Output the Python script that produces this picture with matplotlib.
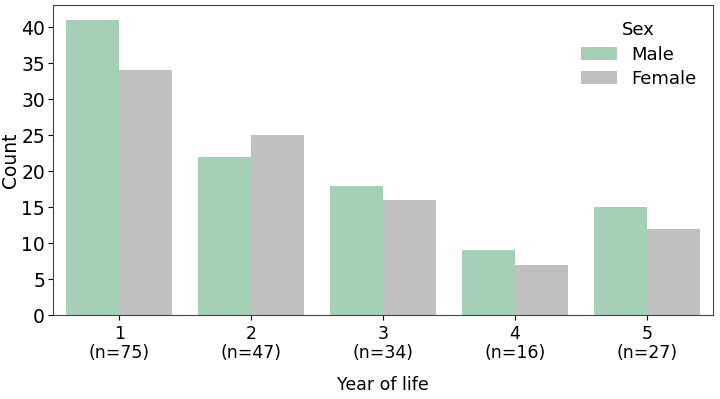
import matplotlib
matplotlib.use("Agg")
import matplotlib.pyplot as plt
import numpy as np

years = ["1", "2", "3", "4", "5"]
n_counts = [75, 47, 34, 16, 27]
male = [41, 22, 18, 9, 15]
female = [34, 25, 16, 7, 12]
series_names = ["Male", "Female"]
colors = ["#a6d0b6", "#c0c0c0"]

plt.rcParams['font.family'] = ['DejaVu Sans']
fig, ax = plt.subplots(figsize=(7.2, 3.99), dpi=100)
x = np.arange(len(years))
w = 0.4
ax.bar(x - w/2, male, width=w, color=colors[0], label=series_names[0])
ax.bar(x + w/2, female, width=w, color=colors[1], label=series_names[1])
ax.set_xlim(-0.5, len(years) - 0.5)
ax.set_ylim(0, max(male + female) * 1.05)
ax.set_yticks(np.arange(0, 41, 5))
ax.set_xticks(x)
ax.set_xticklabels([f"{y}\n(n={n})" for y, n in zip(years, n_counts)], fontsize=12.5,
                   linespacing=1.1)
ax.tick_params(axis='y', labelsize=13.5, pad=2.5)
ax.set_xlabel("Year of life", fontsize=12.5, labelpad=10)
ax.set_ylabel("Count", fontsize=13.5, labelpad=1)
for s in ax.spines.values():
    s.set_color("#444444")
leg = ax.legend(title="Sex", frameon=False, fontsize=13, title_fontsize=13,
                loc="upper right", labelspacing=0.35)
fig.subplots_adjust(left=0.074, right=0.99, top=0.987, bottom=0.21)
fig.savefig("out.png", dpi=100)
